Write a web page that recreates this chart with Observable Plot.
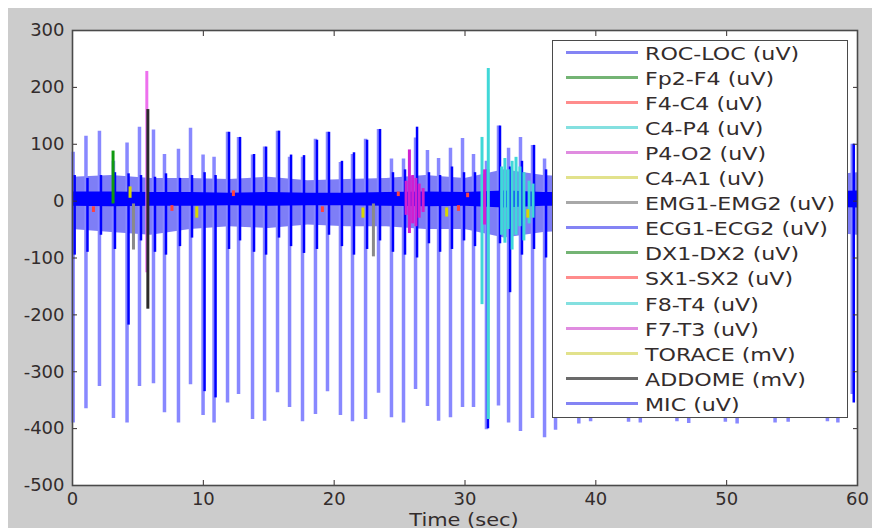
<!DOCTYPE html>
<html><head><meta charset="utf-8">
<script src="https://cdn.jsdelivr.net/npm/d3@7"></script>
<script src="https://cdn.jsdelivr.net/npm/@observablehq/plot@0.6"></script>
<style>
body{margin:0;background:#fff}
#fig{position:relative;width:872px;height:531px;overflow:hidden;background:#fff;font-family:"DejaVu Sans",sans-serif;color:#332c2c}
#panel{position:absolute;left:8px;top:8px;width:864px;height:520px;background:#cccccc}
#xlabel{position:absolute;left:356px;width:200px;top:503.5px;text-align:center;font-size:17px;line-height:17px;transform:scaleX(1.23);transform-origin:50% 50%;white-space:nowrap}
#chart{position:absolute;left:0;top:0}
#legend{position:absolute;left:552px;top:40px;width:296px;height:378px;box-sizing:border-box;background:#fff;border:1.5px solid #4a4a4a}
.sw{position:absolute;left:12.5px;width:72px;height:3px}
.lab{position:absolute;left:91.5px;font-size:18px;line-height:18px;white-space:nowrap;transform:scaleX(1.23);transform-origin:0 50%}
</style></head>
<body>
<div id="fig">
  <div id="panel"><div id="xlabel">Time (sec)</div></div>
  <div id="chart"></div>
  <div id="legend"></div>
</div>
<script>
// ---- data ----
const seriesNames = ["ROC-LOC (uV)","Fp2-F4 (uV)","F4-C4 (uV)","C4-P4 (uV)","P4-O2 (uV)","C4-A1 (uV)","EMG1-EMG2 (uV)","ECG1-ECG2 (uV)","DX1-DX2 (uV)","SX1-SX2 (uV)","F8-T4 (uV)","F7-T3 (uV)","TORACE (mV)","ADDOME (mV)","MIC (uV)"];
const xTicks = [0,10,20,30,40,50,60];
const yTicks = [-500,-400,-300,-200,-100,0,100,200,300];

// heartbeat spikes (sec, uV)
const beatTime = [0.05,1.03,2.06,3.13,4.17,5.12,6.19,7.03,8.10,9.02,9.98,10.82,11.85,12.69,13.76,14.68,15.67,16.59,17.58,18.57,19.49,20.48,21.40,22.40,23.39,24.38,25.30,26.22,27.13,27.98,28.89,29.81,30.65,31.64,32.56,33.33,34.24,35.16,36.08,36.92,37.80,38.70,39.60,40.60,41.50,42.50,43.40,44.30,45.30,46.20,47.10,48.00,49.00,49.90,50.80,51.80,52.70,53.70,54.70,55.70,56.70,57.70,58.50,59.60];
const beatHigh = [86,114,123,70,102,130,125,82,91,128,81,77,121,112,81,95,123,77,77,109,121,68,82,109,126,74,74,111,89,75,93,110,82,70,132,93,112,98,74,90,100,85,110,95,120,80,105,90,115,85,100,120,80,95,110,85,125,90,100,80,115,95,85,100];
const beatLow = [-390,-365,-326,-382,-390,-326,-321,-372,-390,-323,-377,-390,-355,-340,-384,-387,-337,-363,-388,-375,-335,-377,-388,-384,-338,-381,-390,-331,-361,-387,-381,-363,-363,-402,-360,-390,-405,-382,-416,-403,-360,-392,-388,-350,-365,-389,-390,-355,-340,-388,-391,-360,-350,-389,-392,-345,-368,-390,-389,-352,-370,-388,-390,-340];
// darker trace per beat
const darkHigh = [45,40,45,50,48,45,42,48,40,45,50,45,121,112,82,95,123,81,80,107,121,70,85,107,126,50,55,130,50,45,60,50,50,55,132,60,70,98,55,45,45,45,45,45,45,45,45,45,45,45,45,45,45,45,45,45,45,45,45,45,45,45,45,100];
const darkLow = [-95,-90,-60,-85,-218,-70,-90,-95,-80,-65,-335,-346,-85,-70,-90,-95,-65,-80,-92,-85,-60,-80,-95,-85,-70,-90,-95,-100,-75,-90,-85,-70,-80,-400,-75,-161,-95,-85,-100,-90,-80,-85,-75,-90,-80,-85,-70,-90,-80,-75,-85,-90,-80,-70,-85,-90,-75,-80,-85,-90,-75,-80,-85,-355];

// dense baseline envelope
const bandTime   = [0,3,6,9,12,15,18,21,24,27,30,33,36,40,45,50,55,60];
const bandTop    = [42,45,40,40,38,42,36,38,40,45,40,55,45,40,40,40,40,50];
const bandBottom = [-50,-55,-60,-50,-45,-48,-42,-45,-45,-50,-50,-65,-55,-50,-50,-50,-50,-60];
const coreTop    = [16,16,15,15,14,15,14,14,15,16,15,18,15,15,15,15,15,18];
const coreBottom = [-9,-10,-9,-9,-8,-9,-8,-8,-9,-10,-9,-12,-9,-9,-9,-9,-9,-12];

// other channels' excursions
const evChannel = ["Fp2-F4 (uV)","EMG1-EMG2 (uV)","C4-A1 (uV)","P4-O2 (uV)","ADDOME (mV)","C4-A1 (uV)","C4-A1 (uV)","EMG1-EMG2 (uV)","F7-T3 (uV)","F7-T3 (uV)","F7-T3 (uV)","F7-T3 (uV)","F7-T3 (uV)","F7-T3 (uV)","C4-A1 (uV)","F8-T4 (uV)","F7-T3 (uV)","F8-T4 (uV)","F8-T4 (uV)","F8-T4 (uV)","F8-T4 (uV)","F8-T4 (uV)","F8-T4 (uV)","F8-T4 (uV)","F8-T4 (uV)","F8-T4 (uV)","F8-T4 (uV)","C4-A1 (uV)","SX1-SX2 (uV)","SX1-SX2 (uV)","SX1-SX2 (uV)","SX1-SX2 (uV)","SX1-SX2 (uV)","SX1-SX2 (uV)","SX1-SX2 (uV)"];
const evTime = [3.10,4.66,4.40,5.68,5.76,9.50,22.20,23.00,25.50,25.75,26.00,26.25,26.50,26.80,28.60,31.30,31.50,31.78,32.80,33.05,33.30,33.60,33.90,34.20,34.50,34.90,35.20,34.80,1.60,7.60,12.30,19.10,24.90,29.50,30.20];
const evLow  = [-5,-86,5,-126,-190,-30,-30,-98,-25,-57,-40,-45,-30,-20,-28,-182,-42,-384,-60,-74,-50,-86,-60,-45,-70,-40,-30,-30,-20,-18,8,-20,8,-18,6];
const evHigh = [88,-5,25,228,161,-10,-12,-5,35,90,45,40,30,22,-12,112,55,233,60,75,55,70,77,60,50,35,30,-15,-10,-8,18,-10,16,-8,14];

// ---- styles ----
const plotColors = ["#0000ff","#109a10","#ff4848","#30c8c8","#ee70ee","#d8d800","#8a8a8a","#0000ff","#109a10","#ff4040","#40d8d8","#d020d0","#d8d800","#2a2a2a","#8888ff"];
const legendColors = ["#8484f4","#74b474","#ff8c8c","#84e0e0","#e08ce0","#e2e28c","#a8a8a8","#8484f4","#74b474","#ff8c8c","#84e0e0","#e08ce0","#e2e28c","#6a6a6a","#8484f4"];

const beats = beatTime.map((t, i) => ({t, low: beatLow[i], high: beatHigh[i], dlow: darkLow[i], dhigh: darkHigh[i]}));
const band = bandTime.map((t, i) => ({t, top: bandTop[i], bottom: bandBottom[i], ctop: coreTop[i], cbottom: coreBottom[i]}));
const events = evTime.map((t, i) => ({t, ch: evChannel[i], low: evLow[i], high: evHigh[i]}));

const fmt = d => String(d);
const chart = Plot.plot({
  width: 872, height: 531,
  marginLeft: 72, marginRight: 15, marginTop: 30, marginBottom: 46,
  style: {background: "transparent", fontFamily: "DejaVu Sans, sans-serif", fontSize: "18px", color: "#332c2c"},
  x: {domain: [0, 60], label: null},
  y: {domain: [-500, 300], label: null},
  color: {domain: seriesNames, range: plotColors},
  marks: [
    Plot.frame({fill: "white", stroke: "none"}),
    Plot.areaY(band, {x: "t", y1: "bottom", y2: "top", fill: "#2020f0", fillOpacity: 0.58}),
    Plot.ruleX(beats, {x: "t", y1: "low", y2: "high", stroke: () => "MIC (uV)", strokeWidth: 3.5}),
    Plot.ruleX(beats, {x: "t", y1: "dlow", y2: "dhigh", stroke: () => "ROC-LOC (uV)", strokeWidth: 2.5, dx: 1.5}),
    Plot.areaY(band, {x: "t", y1: "cbottom", y2: "ctop", fill: "#0000ff"}),
    Plot.ruleX(events, {x: "t", y1: "low", y2: "high", stroke: "ch", strokeWidth: 3}),
    Plot.axisY({ticks: yTicks, tickSize: 0, tickPadding: 8, tickFormat: fmt, label: null}),
    Plot.axisY({ticks: yTicks, tickSize: -5, tickFormat: () => "", label: null}),
    Plot.axisY({ticks: yTicks, anchor: "right", tickSize: -5, tickFormat: () => "", label: null}),
    Plot.axisX({ticks: xTicks, tickSize: 0, tickPadding: 7, tickFormat: fmt, label: null}),
    Plot.axisX({ticks: xTicks, tickSize: -5, tickFormat: () => "", label: null}),
    Plot.axisX({ticks: xTicks, anchor: "top", tickSize: -5, tickFormat: () => "", label: null}),
    Plot.frame({stroke: "#4a4a4a", strokeWidth: 1.6})
  ]
});
document.getElementById("chart").appendChild(chart);

// legend
const leg = document.getElementById("legend");
seriesNames.forEach((name, i) => {
  const cy = 11.5 + 25.05 * i;
  const sw = document.createElement("div");
  sw.className = "sw";
  sw.style.top = (cy - 1.5) + "px";
  sw.style.background = legendColors[i];
  leg.appendChild(sw);
  const lb = document.createElement("div");
  lb.className = "lab";
  lb.style.top = (cy - 7.5) + "px";
  lb.textContent = name;
  leg.appendChild(lb);
});
</script>
</body></html>
